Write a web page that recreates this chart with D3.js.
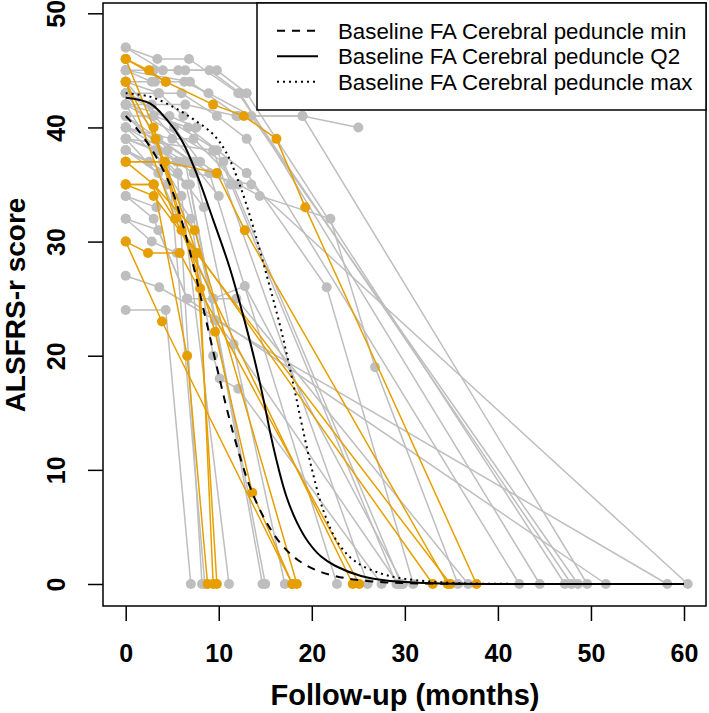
<!DOCTYPE html>
<html><head><meta charset="utf-8">
<script src="https://cdn.jsdelivr.net/npm/d3@7"></script>
<style>body{margin:0;background:#fff}text{font-family:"Liberation Sans",Arial,Helvetica,sans-serif}</style>
</head><body>
<svg id="c" width="709" height="713"></svg>
<script>
// ---- data ----
const xTicks = [0, 10, 20, 30, 40, 50, 60];
const yTicks = [0, 10, 20, 30, 40, 50];
const legendLabels = ["Baseline FA Cerebral peduncle min", "Baseline FA Cerebral peduncle Q2", "Baseline FA Cerebral peduncle max"];

const grayTraj = [
 [[0,47],[3.4,46],[6.8,46],[12.1,43],[47.9,0]],
 [[0,45],[3.0,45],[5.65,45],[9.0,45],[12.3,43],[44.5,0]],
 [[0,47],[4.0,45],[6.4,45],[9.8,45],[13.0,43],[47.2,0]],
 [[0,44],[3.15,44],[6.3,44],[8.9,43],[13.5,41],[48.6,0]],
 [[0,43],[3.5,43],[6.0,43],[9.8,41],[13.0,39],[42.3,0]],
 [[0,42],[6.4,42],[11.9,41],[19.0,41],[25.0,40]],
 [[0,45],[6.9,44],[12.1,41],[19.0,41],[49.6,0]],
 [[0,41],[3.0,41],[6.7,40],[13.0,36],[21.6,26],[30.9,0]],
 [[0,40],[5.0,39],[7.3,39],[12.1,35],[14.4,34],[22.0,32],[26.8,19],[35.7,0]],
 [[0,39],[3.5,38],[7.3,36],[13.5,35],[60.4,0]],
 [[0,27],[3.6,26],[58.2,0]],
 [[0,24],[4.3,24],[7.0,0]],
 [[0,32],[3.5,31],[6.6,25],[51.6,0]],
 [[0,34],[3.0,32],[6.6,25],[9.4,25],[11.9,25],[36.8,0]],
 [[0,38],[3.5,36],[9.4,25],[12.8,26.1],[29.8,0]],
 [[0,40],[4.0,37],[6.5,35],[9.6,23.1],[11.6,21],[29.3,0]],
 [[0,39],[4.5,35],[7.0,32],[9.4,20],[10.1,18],[12.1,17.1],[27.5,0]],
 [[0,41],[5.5,37],[8.2,0]],
 [[0,43],[4.5,38],[8.5,0]],
 [[0,42],[6.0,34],[11.1,0]],
 [[0,40],[6.4,37],[9.6,23.1],[14.7,0]],
 [[0,38],[6.9,35],[15.0,0]],
 [[0,44],[7.3,37],[17.1,0]],
 [[0,41],[9.0,36],[22.7,0]],
 [[0,39],[9.4,38],[26.0,0]],
 [[0,43],[9.8,38],[29.1,0]],
 [[0,42],[10.5,37],[29.6,0]],
 [[0,34],[3.3,33]],
 [[0,32],[2.8,30],[5.5,29]],
 [[0,45],[2.8,44]],
 [[0,38],[2.5,37],[5.8,37]],
 [[0,40],[3.5,39],[7.0,37],[10.0,34]],
 [[0,42],[4.7,41],[7.6,40]],
 [[0,44],[3.6,43],[6.2,41]],
 [[0,39],[3.1,38],[5.6,36],[8.4,33]],
 [[0,43],[2.8,42],[5.2,40],[8.0,37],[11.3,35]]
];

const orangeTraj = [
 [[0,46],[4.3,44],[9.4,42],[12.7,41],[16.2,39],[19.3,33],[37.7,0]],
 [[0,37],[4.2,37],[9.8,36],[12.8,31],[34.6,0]],
 [[0,35],[3.0,35],[6.0,31],[33.0,0]],
 [[0,35],[3.0,34],[7.6,29],[34.9,0]],
 [[0,44],[5.3,32],[24.4,0]],
 [[0,30],[3.9,23],[17.9,0]],
 [[0,30],[2.4,29],[5.8,29],[25.1,0]],
 [[0,37],[3.0,35],[6.6,20],[8.8,0]],
 [[0,44],[3.2,39],[8.0,25.9],[9.4,0]],
 [[0,37],[4.2,37],[7.6,29],[9.8,0]],
 [[0,35],[3.0,35],[7.4,31],[18.4,0]],
 [[0,46],[3.0,40],[9.6,22.1],[13.6,8],[17.9,0]],
 [[0,46],[2.5,45],[4.3,44]]
];

const curveMin = [[0,41],[1.2,39.9],[3,37.8],[4.8,34.9],[6.1,31.6],[7.3,27.8],[8.3,24.3],[9.4,20.4],[10.2,17.6],[11.1,14.6],[12.3,11.1],[13.5,8.2],[15.2,5.3],[16.9,3.3],[18.5,2.1],[20.5,1.2],[22.5,0.7],[24.5,0.4],[28,0.14],[35,0.02],[60,0]];
const curveQ2 = [[0,42.6],[2.6,42.1],[4.4,40.7],[6,38.9],[7.6,36.0],[9.4,31.9],[11.1,27.9],[12.6,23.6],[13.8,19.8],[14.8,16.2],[15.6,13.0],[16.4,10.2],[17.3,7.6],[18.4,5.4],[19.6,3.7],[21,2.4],[22.5,1.6],[25.3,0.7],[28,0.3],[33,0.06],[40,0],[60,0]];
const curveMax = [[0,43],[2.6,42.7],[5.1,41.8],[7.3,40.7],[9.4,39.4],[10.8,37.8],[12.2,35.1],[13.7,31.3],[15.2,26.9],[16.6,22.6],[17.4,19.8],[18.2,16.8],[19.0,13.7],[20.0,10.1],[21.3,6.3],[22.9,3.5],[24.8,1.9],[27.5,0.9],[30,0.45],[35,0.1],[40,0.02],[60,0]];

// ---- layout ----
const box = {l:103, r:706, t:3, b:606};
const x = d3.scaleLinear().domain([0,60]).range([125.7,684]);
const y = d3.scaleLinear().domain([0,50]).range([584,13.3]);
const GRAY = "#BEBEBE", ORANGE = "#E69F00";

const svg = d3.select("#c");
const line = d3.line().x(d=>x(d[0])).y(d=>y(d[1]));
const smooth = d3.line().x(d=>x(d[0])).y(d=>y(d[1])).curve(d3.curveCatmullRom.alpha(0.5));

function drawGroup(data, color){
  const g = svg.append("g");
  g.selectAll("path").data(data).join("path")
    .attr("d", line).attr("fill","none").attr("stroke",color).attr("stroke-width",1.5);
  g.selectAll("circle").data(data.flat()).join("circle")
    .attr("cx",d=>x(d[0])).attr("cy",d=>y(d[1])).attr("r",5).attr("fill",color);
}
drawGroup(grayTraj, GRAY);
drawGroup(orangeTraj, ORANGE);

const styles = [{dash:"8,7"},{dash:null},{dash:"2,4"}];
[curveMin, curveQ2, curveMax].forEach((c,i)=>{
  svg.append("path").attr("d", smooth(c)).attr("fill","none").attr("stroke","#000")
    .attr("stroke-width",2).attr("stroke-dasharray", styles[i].dash);
});

// box
svg.append("rect").attr("x",box.l).attr("y",box.t).attr("width",box.r-box.l).attr("height",box.b-box.t)
  .attr("fill","none").attr("stroke","#000").attr("stroke-width",1.5);

// axes
const xa = svg.append("g").attr("transform",`translate(0,${box.b})`)
  .call(d3.axisBottom(x).tickValues(xTicks).tickSize(15).tickFormat(d3.format("d")));
xa.select(".domain").remove();
xa.selectAll("line").attr("stroke-width",1.5);
xa.selectAll("text").attr("y",55.7).attr("dy",null).attr("font-size",25).attr("font-weight","bold")
  .attr("font-family",'"Liberation Sans",Arial,sans-serif').attr("fill","#000");

const ya = svg.append("g").attr("transform",`translate(${box.l},0)`)
  .call(d3.axisLeft(y).tickValues(yTicks).tickSize(15).tickFormat(d3.format("d")));
ya.select(".domain").remove();
ya.selectAll("line").attr("stroke-width",1.5);
ya.selectAll("text").attr("x",null).attr("dy",null).attr("text-anchor","middle")
  .attr("transform",`translate(${65-box.l},0) rotate(-90)`)
  .attr("font-size",25).attr("font-weight","bold")
  .attr("font-family",'"Liberation Sans",Arial,sans-serif').attr("fill","#000");

// titles
svg.append("text").attr("x",405).attr("y",705).attr("text-anchor","middle")
  .attr("font-size",29).attr("font-weight","bold").text("Follow-up (months)");
svg.append("text").attr("transform","translate(25,305) rotate(-90)").attr("text-anchor","middle")
  .attr("font-size",28).attr("font-weight","bold").text("ALSFRS-r score");

// legend
const lg = svg.append("g");
lg.append("rect").attr("x",257).attr("y",box.t).attr("width",box.r-257).attr("height",107)
  .attr("fill","#fff").attr("stroke","#000").attr("stroke-width",1.5);
const rowsY = [30.7, 56.2, 81.7];
legendLabels.forEach((lab,i)=>{
  lg.append("line").attr("x1",277).attr("x2",318).attr("y1",rowsY[i]).attr("y2",rowsY[i])
    .attr("stroke","#000").attr("stroke-width",2).attr("stroke-dasharray",styles[i].dash);
  lg.append("text").attr("x",338).attr("y",rowsY[i]+7.9).attr("font-size",22.3).text(lab);
});
</script>
</body></html>
